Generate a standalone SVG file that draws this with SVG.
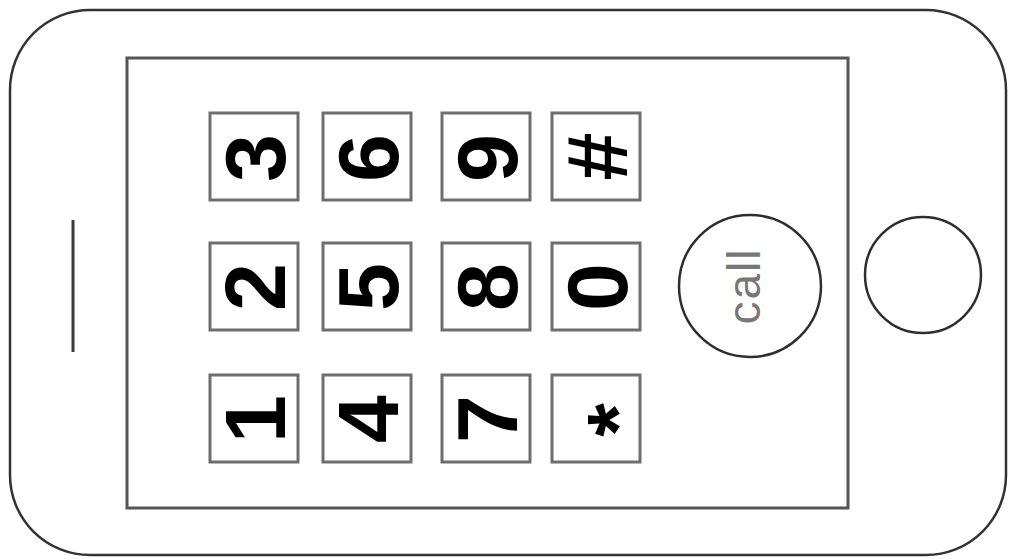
<svg xmlns="http://www.w3.org/2000/svg" width="1010" height="560" viewBox="0 0 1010 560">
<style>
.key rect{fill:#fff;stroke:#6e6e6e;stroke-width:3}
.key text{font-family:"Liberation Sans",Arial,sans-serif;font-size:86px;font-weight:bold;fill:#000;text-anchor:middle}
.btn{fill:#fff;stroke:#2e2e2e;stroke-width:2.5}
</style>
<rect width="1010" height="560" fill="#fff"/>
<g id="phone-body">
<rect x="10" y="10" width="996" height="545" rx="80" ry="80" fill="#fff" stroke="#333" stroke-width="2.5"/>
</g>
<g id="screen">
<rect x="127" y="58" width="721" height="450" fill="#fff" stroke="#555" stroke-width="3"/>
</g>
<g id="speaker">
<line x1="73" y1="220" x2="73" y2="352" stroke="#3a3a3a" stroke-width="3"/>
</g>
<g id="key-3" class="key"><rect x="210" y="113" width="88" height="87"/><text transform="translate(254,158) rotate(-90)" y="31">3</text></g>
<g id="key-6" class="key"><rect x="323" y="113" width="88" height="87"/><text transform="translate(367,158) rotate(-90)" y="31">6</text></g>
<g id="key-9" class="key"><rect x="442" y="113" width="88" height="87"/><text transform="translate(486,158) rotate(-90)" y="31">9</text></g>
<g id="key-hash" class="key"><rect x="552" y="113" width="88" height="87"/><text transform="translate(596,156.5) rotate(-90)" y="31">#</text></g>
<g id="key-2" class="key"><rect x="210" y="243" width="88" height="87"/><text transform="translate(254,287) rotate(-90)" y="31">2</text></g>
<g id="key-5" class="key"><rect x="323" y="243" width="88" height="87"/><text transform="translate(367,287) rotate(-90)" y="31">5</text></g>
<g id="key-8" class="key"><rect x="442" y="243" width="88" height="87"/><text transform="translate(486,287) rotate(-90)" y="31">8</text></g>
<g id="key-0" class="key"><rect x="552" y="243" width="88" height="87"/><text transform="translate(596,287) rotate(-90)" y="31">0</text></g>
<g id="key-1" class="key"><rect x="210" y="375" width="88" height="87"/><text transform="translate(254,419) rotate(-90)" y="31">1</text></g>
<g id="key-4" class="key"><rect x="323" y="375" width="88" height="87"/><text transform="translate(367,419) rotate(-90)" y="31">4</text></g>
<g id="key-7" class="key"><rect x="442" y="375" width="88" height="87"/><text transform="translate(486,419) rotate(-90)" y="31">7</text></g>
<g id="key-star" class="key"><rect x="552" y="375" width="88" height="87"/><text transform="translate(596,420) rotate(-90)" y="51">*</text></g>
<g id="call-button">
<circle class="btn" cx="750" cy="286" r="71"/>
<text transform="translate(750,286) rotate(-90)" y="10" font-family="Liberation Sans,Arial,sans-serif" font-size="46" fill="#777" text-anchor="middle" letter-spacing="2">call</text>
</g>
<g id="home-button">
<circle class="btn" cx="923" cy="275" r="58"/>
</g>
</svg>
